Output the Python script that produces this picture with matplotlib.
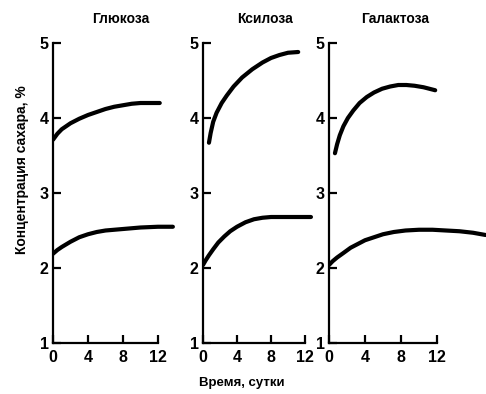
import matplotlib
matplotlib.use("Agg")
import matplotlib.pyplot as plt

plt.rcParams['font.family'] = ['Liberation Sans', 'DejaVu Sans']

# Sugar concentration (%) versus time (days) for three sugars
titles = ["Глюкоза", "Ксилоза", "Галактоза"]
y_ticks = [1, 2, 3, 4, 5]
x_ticks = [0, 4, 8, 12]

glucose_hi_t = [0, 0.5, 1, 2, 3, 4, 5, 6, 7, 8, 9, 10, 11, 12.2]
glucose_hi_c = [3.71, 3.79, 3.85, 3.93, 3.99, 4.04, 4.08, 4.12, 4.15, 4.17, 4.19, 4.20, 4.20, 4.20]
glucose_lo_t = [0, 0.5, 1, 2, 3, 4, 5, 6, 7, 8, 10, 12, 13.7]
glucose_lo_c = [2.19, 2.24, 2.28, 2.35, 2.41, 2.45, 2.48, 2.50, 2.51, 2.52, 2.54, 2.55, 2.55]

xylose_hi_t = [0.7, 0.9, 1.2, 1.6, 2.2, 2.8, 3.6, 4.6, 5.8, 7.0, 8.0, 9.0, 10.0, 11.2]
xylose_hi_c = [3.67, 3.80, 3.95, 4.07, 4.20, 4.30, 4.42, 4.54, 4.65, 4.74, 4.80, 4.84, 4.87, 4.88]
xylose_lo_t = [0, 0.3, 0.7, 1.2, 1.8, 2.5, 3.2, 4.0, 5.0, 6.0, 7.0, 8.0, 10.0, 12.7]
xylose_lo_c = [2.04, 2.10, 2.17, 2.25, 2.34, 2.42, 2.49, 2.55, 2.61, 2.65, 2.67, 2.68, 2.68, 2.68]

galactose_hi_t = [0.66, 0.9, 1.2, 1.6, 2.1, 2.7, 3.4, 4.2, 5.0, 5.9, 6.8, 7.7, 8.6, 9.5, 10.5, 11.8]
galactose_hi_c = [3.53, 3.65, 3.77, 3.89, 4.00, 4.10, 4.20, 4.28, 4.34, 4.39, 4.42, 4.44, 4.44, 4.43, 4.41, 4.37]
galactose_lo_t = [0, 0.4, 0.9, 1.6, 2.4, 3.2, 4.0, 5.0, 6.0, 7.2, 8.5, 10.0, 11.5, 13.0, 14.5, 16.0, 17.4]
galactose_lo_c = [2.04, 2.09, 2.14, 2.20, 2.27, 2.32, 2.37, 2.41, 2.45, 2.48, 2.50, 2.51, 2.51, 2.50, 2.49, 2.47, 2.44]

curves = [
    [(glucose_hi_t, glucose_hi_c), (glucose_lo_t, glucose_lo_c)],
    [(xylose_hi_t, xylose_hi_c), (xylose_lo_t, xylose_lo_c)],
    [(galactose_hi_t, galactose_hi_c), (galactose_lo_t, galactose_lo_c)],
]

W, H = 486, 394
fig = plt.figure(figsize=(W / 100, H / 100), dpi=100)

# panel frames in pixels: left edge, pixels per day, visible days
frames = [(53, 8.75, 14.5), (203, 8.5, 13.5), (329, 9.0, 17.44)]
y_top, y_bot = 43, 343
title_x = [121, 265, 395]

for (left, ppd, xmax), pair, title, tx in zip(frames, curves, titles, title_x):
    ax = fig.add_axes([left / W, 1 - y_bot / H, xmax * ppd / W, (y_bot - y_top) / H])
    ax.set_xlim(0, xmax)
    ax.set_ylim(1, 5)
    for t, c in pair:
        ax.plot(t, c, color="black", lw=3.0, solid_capstyle="round",
                solid_joinstyle="round")
    for s in ("top", "right"):
        ax.spines[s].set_visible(False)
    for s in ("left", "bottom"):
        ax.spines[s].set_linewidth(1.6)
    ax.spines["bottom"].set_bounds(0, 12)
    ax.set_xticks(x_ticks)
    ax.set_yticks(y_ticks)
    ax.tick_params(axis="both", direction="in", width=1.6, length=6,
                   labelsize=11.5, pad=3)
    ax.tick_params(axis="x", pad=5)
    for lab in ax.get_xticklabels() + ax.get_yticklabels():
        lab.set_fontweight("bold")
    ax.patch.set_visible(False)
    fig.text(tx / W, 1 - 19 / H, title, ha="center", va="center",
             fontsize=10, fontweight="bold")

fig.text(22 / W, 1 - 170 / H, "Концентрация сахара, %", rotation=90,
         ha="center", va="center", fontsize=10, fontweight="bold")
fig.text(242 / W, 1 - 383 / H, "Время, сутки", ha="center", va="center",
         fontsize=9.5, fontweight="bold")

fig.savefig("out.png", dpi=100)
